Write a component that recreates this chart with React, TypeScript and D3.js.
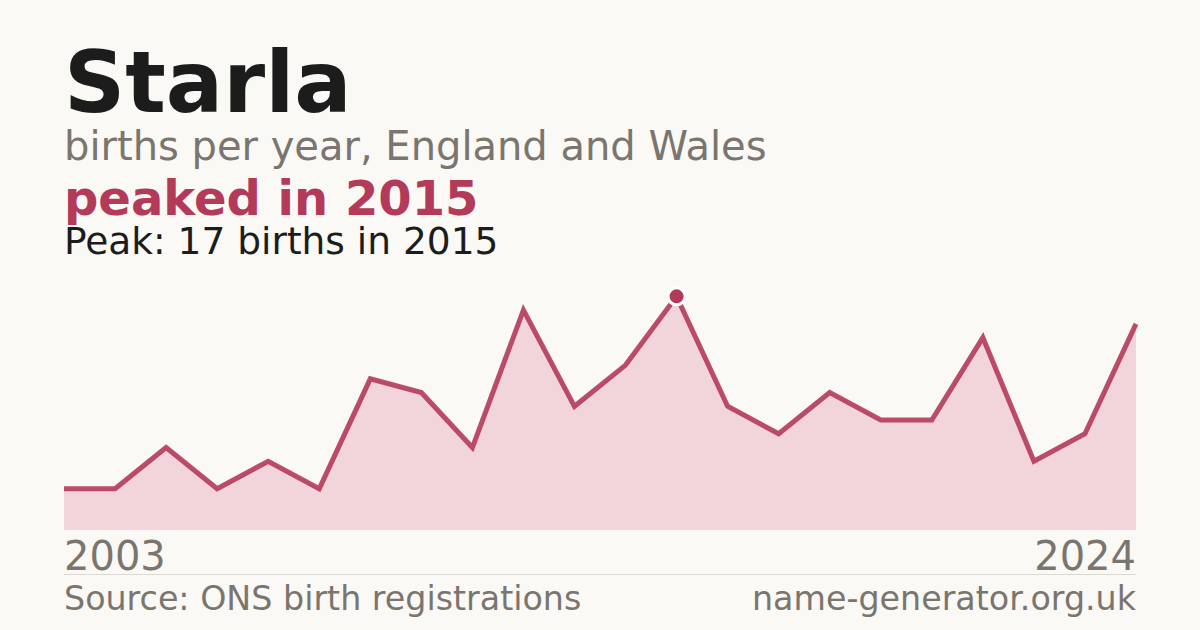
import React, { useRef, useEffect } from 'react';
import * as d3 from 'd3';

const years = [2003, 2004, 2005, 2006, 2007, 2008, 2009, 2010, 2011, 2012, 2013, 2014, 2015, 2016, 2017, 2018, 2019, 2020, 2021, 2022, 2023, 2024];
const births = [3, 3, 6, 3, 5, 3, 11, 10, 6, 16, 9, 12, 17, 9, 7, 10, 8, 8, 14, 5, 7, 15];

const title = 'Starla';
const subtitle = 'births per year, England and Wales';
const headline = 'peaked in 2015';
const peakNote = 'Peak: 17 births in 2015';
const sourceNote = 'Source: ONS birth registrations';
const siteNote = 'name-generator.org.uk';

const accent = '#b43a59';
const grey = '#7a756e';
const font = '"DejaVu Sans", Verdana, sans-serif';

const W = 1200;
const H = 630;

const App: React.FC = () => {
  const svgRef = useRef<SVGSVGElement>(null);

  useEffect(() => {
    if (!svgRef.current) return;
    const svg = d3.select(svgRef.current);
    svg.selectAll('*').remove();

    svg.append('rect').attr('width', W).attr('height', H).attr('fill', '#faf9f5');

    // Header texts
    const texts = [
      { t: title, y: 112, size: 85, weight: 'bold', fill: '#1c1c1c' },
      { t: subtitle, y: 160, size: 40, weight: 'normal', fill: grey },
      { t: headline, y: 215, size: 48, weight: 'bold', fill: accent },
      { t: peakNote, y: 254, size: 37.5, weight: 'normal', fill: '#1c1c1c' },
    ];
    svg.selectAll('text.head')
      .data(texts)
      .join('text')
      .attr('class', 'head')
      .attr('x', 64)
      .attr('y', d => d.y)
      .attr('font-family', font)
      .attr('font-size', d => d.size)
      .attr('font-weight', d => d.weight)
      .attr('fill', d => d.fill)
      .text(d => d.t);

    const data = years.map((yr, i) => ({ yr, v: births[i] }));
    const maxV = d3.max(births) || 0;

    const x = d3.scaleLinear()
      .domain([years[0], years[years.length - 1]])
      .range([64, 1136]);
    const y = d3.scaleLinear()
      .domain([0, maxV * 1.1])
      .range([530, 273]);

    const area = d3.area<{ yr: number; v: number }>()
      .x(d => x(d.yr))
      .y0(y(0))
      .y1(d => y(d.v));
    const line = d3.line<{ yr: number; v: number }>()
      .x(d => x(d.yr))
      .y(d => y(d.v));

    svg.append('path').datum(data).attr('d', area).attr('fill', '#f1d5db');
    svg.append('path').datum(data)
      .attr('d', line)
      .attr('fill', 'none')
      .attr('stroke', accent)
      .attr('stroke-width', 5)
      .attr('stroke-linejoin', 'miter')
      .attr('opacity', 0.9);

    // Peak marker
    const peak = data.find(d => d.v === maxV)!;
    svg.append('circle')
      .attr('cx', x(peak.yr))
      .attr('cy', y(peak.v))
      .attr('r', 8.5)
      .attr('fill', accent)
      .attr('stroke', '#fff')
      .attr('stroke-width', 3);

    // Year labels
    svg.append('text')
      .attr('x', x(years[0]))
      .attr('y', 570)
      .attr('font-family', font)
      .attr('font-size', 40)
      .attr('fill', grey)
      .text(String(years[0]));
    svg.append('text')
      .attr('x', x(years[years.length - 1]))
      .attr('y', 570)
      .attr('text-anchor', 'end')
      .attr('font-family', font)
      .attr('font-size', 40)
      .attr('fill', grey)
      .text(String(years[years.length - 1]));

    svg.append('line')
      .attr('x1', 64).attr('x2', 1136)
      .attr('y1', 574.5).attr('y2', 574.5)
      .attr('stroke', '#dcd9d3')
      .attr('stroke-width', 1);

    svg.append('text')
      .attr('x', 64)
      .attr('y', 610)
      .attr('font-family', font)
      .attr('font-size', 33.3)
      .attr('fill', grey)
      .text(sourceNote);
    svg.append('text')
      .attr('x', 1136)
      .attr('y', 610)
      .attr('text-anchor', 'end')
      .attr('font-family', font)
      .attr('font-size', 33.3)
      .attr('fill', grey)
      .text(siteNote);
  }, []);

  return (
    <svg
      ref={svgRef}
      width={W}
      height={H}
      style={{ position: 'absolute', left: 0, top: 0, display: 'block' }}
    />
  );
};

export default App;
